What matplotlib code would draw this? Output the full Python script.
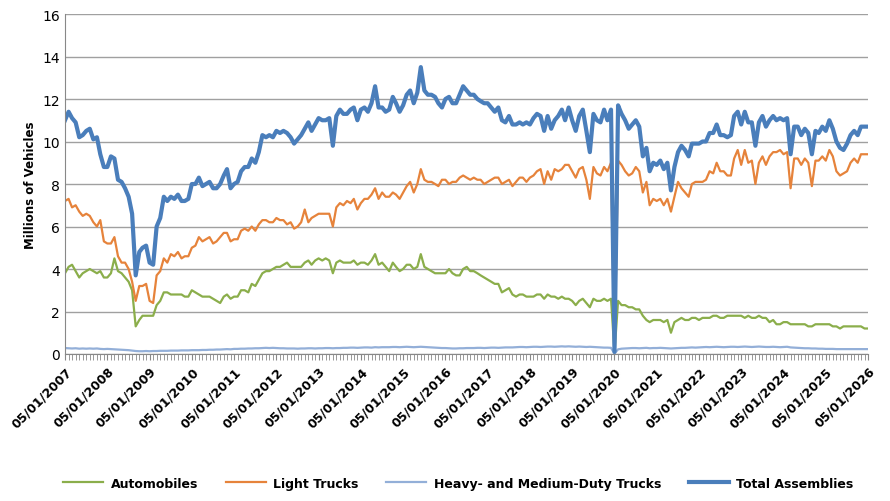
import matplotlib
matplotlib.use("Agg")
import matplotlib.pyplot as plt
import pandas as pd
import numpy as np

dates = pd.date_range("2007-05-01", "2026-05-01", freq="MS")

total = [
 11.0,11.4,11.1,10.9,10.2,10.3,10.5,10.6,
 10.1,10.2,9.4,8.8,8.8,9.3,9.2,8.2,8.1,7.8,7.4,6.6,
 3.7,4.8,5.0,5.1,4.3,4.2,6.0,6.4,7.4,7.2,7.4,7.3,
 7.5,7.2,7.2,7.3,8.0,8.0,8.3,7.9,8.0,8.1,7.8,7.8,
 8.0,8.4,8.7,7.8,8.0,8.1,8.6,8.8,8.8,9.2,9.0,9.5,
 10.3,10.2,10.3,10.2,10.5,10.4,10.5,10.4,10.2,9.9,10.1,10.3,
 10.6,10.9,10.5,10.8,11.1,11.0,11.0,11.1,9.8,11.2,11.5,11.3,
 11.3,11.5,11.6,11.0,11.5,11.6,11.4,11.8,12.6,11.6,11.6,11.4,
 11.5,12.1,11.8,11.4,11.7,12.2,12.4,11.8,12.3,13.5,12.4,12.2,
 12.2,12.1,11.8,11.6,12.0,12.1,11.8,11.8,12.2,12.6,12.4,12.2,
 12.2,12.0,11.9,11.8,11.8,11.6,11.4,11.6,11.0,10.9,11.2,10.8,
 10.8,10.9,10.8,10.9,10.8,11.1,11.3,11.2,10.5,11.2,10.6,11.0,
 11.2,11.5,11.0,11.6,11.0,10.5,11.2,11.5,10.5,9.5,11.3,11.0,
 10.9,11.5,11.0,11.5,0.1,11.7,11.3,11.0,10.6,10.8,11.0,10.7,
 9.3,9.7,8.6,9.0,8.9,9.1,8.7,9.0,7.7,8.8,9.5,9.8,
 9.6,9.3,9.9,9.9,9.9,10.0,10.0,10.4,10.4,10.8,10.3,10.3,
 10.2,10.3,11.2,11.4,10.8,11.4,10.9,10.9,9.8,10.9,11.2,10.7,
 11.0,11.2,11.0,11.1,11.0,11.1,9.4,10.7,10.7,10.3,10.6,10.4,
 9.4,10.5,10.4,10.7,10.5,11.0,10.6,10.0,9.7,9.6,9.9,10.3,
 10.5,10.3,10.7,10.7,10.7]

light = [
 7.2,7.3,6.9,7.0,6.7,6.5,6.6,6.5,
 6.2,6.0,6.3,5.3,5.2,5.2,5.5,4.6,4.3,4.3,4.0,3.4,
 2.5,3.2,3.2,3.3,2.5,2.4,3.7,3.9,4.5,4.3,4.7,4.6,
 4.8,4.5,4.6,4.6,5.0,5.1,5.5,5.3,5.4,5.5,5.2,5.3,
 5.5,5.7,5.7,5.3,5.4,5.4,5.8,5.9,5.8,6.0,5.8,6.1,
 6.3,6.3,6.2,6.2,6.4,6.3,6.3,6.1,6.2,5.9,6.0,6.2,
 6.8,6.2,6.4,6.5,6.6,6.6,6.6,6.6,6.0,6.9,7.1,7.0,
 7.2,7.1,7.3,6.8,7.1,7.3,7.3,7.5,7.8,7.3,7.6,7.4,
 7.4,7.6,7.5,7.3,7.6,7.9,8.1,7.6,8.0,8.7,8.2,8.1,
 8.1,8.0,7.9,8.2,8.2,8.0,8.1,8.1,8.3,8.4,8.3,8.2,
 8.3,8.2,8.2,8.0,8.1,8.2,8.3,8.3,8.0,8.1,8.2,7.9,
 8.1,8.3,8.3,8.1,8.3,8.4,8.6,8.7,8.0,8.6,8.2,8.7,
 8.6,8.7,8.9,8.9,8.6,8.3,8.7,8.8,8.2,7.3,8.8,8.5,
 8.4,8.8,8.6,9.0,0.05,9.1,8.9,8.6,8.4,8.5,8.8,8.6,
 7.6,8.1,7.0,7.3,7.2,7.3,7.0,7.3,6.7,7.4,8.1,7.8,
 7.6,7.4,8.0,8.1,8.1,8.1,8.2,8.6,8.5,9.0,8.6,8.6,
 8.4,8.4,9.2,9.6,8.9,9.6,9.0,9.1,8.0,9.0,9.3,8.9,
 9.3,9.5,9.5,9.6,9.4,9.5,7.8,9.2,9.2,8.9,9.2,9.0,
 7.9,9.1,9.1,9.3,9.1,9.6,9.3,8.6,8.4,8.5,8.6,9.0,
 9.2,9.0,9.4,9.4,9.4]

autos = [
 3.8,4.1,4.2,3.9,3.6,3.8,3.9,4.0,
 3.9,3.8,3.9,3.6,3.6,3.8,4.5,3.9,3.8,3.6,3.4,3.0,
 1.3,1.6,1.8,1.8,1.8,1.8,2.3,2.5,2.9,2.9,2.8,2.8,
 2.8,2.8,2.7,2.7,3.0,2.9,2.8,2.7,2.7,2.7,2.6,2.5,
 2.4,2.7,2.8,2.6,2.7,2.7,3.0,3.0,2.9,3.3,3.2,3.5,
 3.8,3.9,3.9,4.0,4.1,4.1,4.2,4.3,4.1,4.1,4.1,4.1,
 4.3,4.4,4.2,4.4,4.5,4.4,4.5,4.4,3.8,4.3,4.4,4.3,
 4.3,4.3,4.4,4.2,4.3,4.3,4.2,4.4,4.7,4.2,4.3,4.1,
 3.9,4.3,4.1,3.9,4.0,4.2,4.2,4.0,4.1,4.7,4.1,4.0,
 3.9,3.8,3.8,3.8,3.8,4.0,3.8,3.7,3.7,4.0,4.1,3.9,
 3.9,3.8,3.7,3.6,3.5,3.4,3.3,3.3,2.9,3.0,3.1,2.8,
 2.7,2.8,2.8,2.7,2.7,2.7,2.8,2.8,2.6,2.8,2.7,2.7,
 2.6,2.7,2.6,2.6,2.5,2.3,2.5,2.6,2.4,2.2,2.6,2.5,
 2.5,2.6,2.5,2.6,0.05,2.5,2.3,2.3,2.2,2.2,2.1,2.1,
 1.8,1.6,1.5,1.6,1.6,1.6,1.5,1.6,1.0,1.5,1.6,1.7,
 1.6,1.6,1.7,1.7,1.6,1.7,1.7,1.7,1.8,1.8,1.7,1.7,
 1.8,1.8,1.8,1.8,1.8,1.7,1.8,1.7,1.7,1.8,1.7,1.7,
 1.5,1.6,1.4,1.4,1.5,1.5,1.4,1.4,1.4,1.4,1.4,1.3,
 1.3,1.4,1.4,1.4,1.4,1.4,1.3,1.3,1.2,1.3,1.3,1.3,
 1.3,1.3,1.3,1.2,1.2]

heavy = [
 0.28,0.27,0.26,0.27,0.25,0.26,0.25,0.26,
 0.25,0.26,0.24,0.23,0.24,0.23,0.22,0.21,0.20,0.19,0.18,0.16,
 0.14,0.13,0.13,0.14,0.13,0.14,0.14,0.15,0.15,0.15,0.16,0.16,
 0.16,0.17,0.17,0.17,0.18,0.18,0.18,0.19,0.19,0.20,0.20,0.21,
 0.21,0.22,0.23,0.22,0.24,0.24,0.25,0.25,0.26,0.26,0.27,0.27,
 0.28,0.29,0.28,0.29,0.28,0.27,0.27,0.26,0.26,0.26,0.25,0.26,
 0.26,0.27,0.27,0.26,0.27,0.27,0.28,0.28,0.27,0.28,0.28,0.29,
 0.29,0.30,0.30,0.29,0.30,0.31,0.31,0.30,0.32,0.31,0.32,0.32,
 0.32,0.33,0.33,0.32,0.33,0.34,0.33,0.32,0.33,0.34,0.33,0.32,
 0.31,0.30,0.29,0.28,0.28,0.27,0.26,0.26,0.27,0.27,0.28,0.28,
 0.28,0.29,0.29,0.28,0.29,0.30,0.30,0.29,0.30,0.31,0.31,0.31,
 0.32,0.33,0.33,0.32,0.33,0.34,0.34,0.33,0.34,0.35,0.35,0.34,
 0.35,0.36,0.35,0.36,0.35,0.34,0.35,0.34,0.33,0.34,0.33,0.32,
 0.31,0.30,0.30,0.29,0.02,0.22,0.25,0.26,0.27,0.28,0.28,0.27,
 0.28,0.29,0.27,0.28,0.28,0.29,0.28,0.27,0.26,0.27,0.28,0.29,
 0.29,0.30,0.31,0.30,0.31,0.32,0.33,0.32,0.33,0.34,0.33,0.32,
 0.33,0.34,0.34,0.33,0.34,0.35,0.34,0.33,0.34,0.35,0.34,0.33,
 0.33,0.34,0.33,0.32,0.33,0.34,0.31,0.30,0.29,0.28,0.27,0.27,
 0.26,0.26,0.25,0.25,0.24,0.24,0.24,0.23,0.23,0.23,0.23,0.23,
 0.23,0.23,0.23,0.23,0.23]

year_labels = [f"05/01/{y}" for y in range(2007, 2027)]
tick_dates = pd.date_range("2007-05-01", "2026-05-01", freq="12MS")

fig = plt.figure(figsize=(8.9, 5.02), dpi=100)
ax = fig.add_axes([65/890, 1-355/502, (868-65)/890, (355-15)/502])
ax.plot(dates, autos, color="#8BAE4B", lw=1.6, label="Automobiles")
ax.plot(dates, light, color="#E6833B", lw=1.6, label="Light Trucks")
ax.plot(dates, heavy, color="#93AFD8", lw=1.6, label="Heavy- and Medium-Duty Trucks")
ax.plot(dates, total, color="#4A7EBB", lw=3.0, label="Total Assemblies")
ax.set_ylim(0, 16)
ax.set_yticks(range(0, 17, 2))
ax.set_xlim(dates[0], dates[-1])
ax.set_xticks(tick_dates)
ax.set_xticklabels(year_labels, rotation=45, ha="right", rotation_mode="anchor",
                   fontsize=9, fontweight="bold")
ax.set_xticks(dates, minor=True)
ax.tick_params(axis="x", which="minor", length=4, color="#888888")
ax.tick_params(axis="x", which="major", length=4, color="#888888")
ax.tick_params(axis="y", labelsize=10, length=0)
ax.grid(axis="y", color="#A0A0A0", lw=1.0)
ax.set_axisbelow(True)
for s in ["top", "right"]:
    ax.spines[s].set_visible(False)
ax.spines["left"].set_color("#888888")
ax.spines["bottom"].set_color("#888888")
ax.set_ylabel("Millions of Vehicles", fontsize=8.5, fontweight="bold")
leg = fig.legend(loc="lower center", ncol=4, frameon=False, bbox_to_anchor=(0.515, 0.0),
                 prop={"weight": "bold", "size": 9}, handlelength=3.2, handletextpad=0.6,
                 columnspacing=2.2)
fig.savefig("out.png", dpi=100)
